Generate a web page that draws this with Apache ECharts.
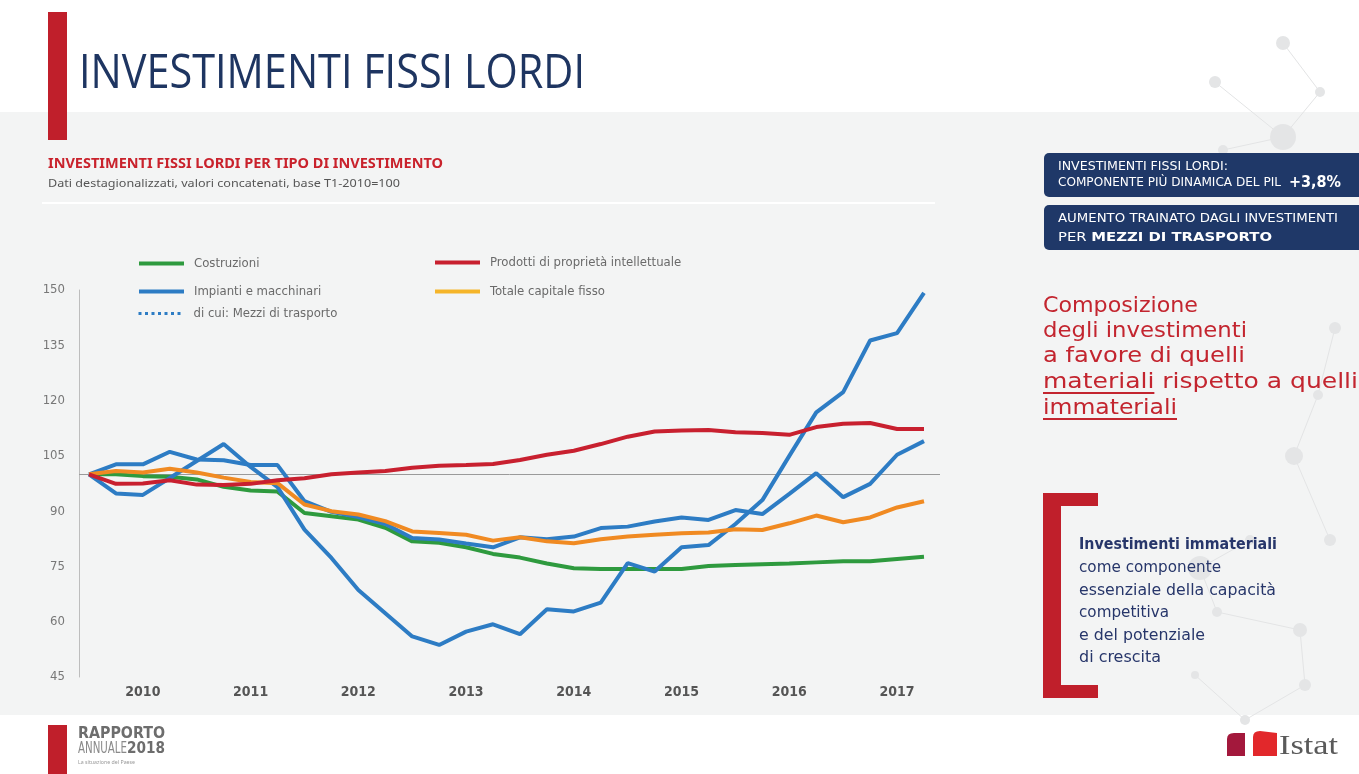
<!DOCTYPE html>
<html>
<head>
<meta charset="utf-8">
<script src="https://cdn.jsdelivr.net/npm/echarts@6/dist/echarts.min.js"></script>
<style>
html, body { margin: 0; padding: 0; width: 1359px; height: 774px; overflow: hidden; background: #fff; }
.box { position: absolute; }
.t { position: absolute; white-space: nowrap; transform-origin: 0 50%; }
#band { left: 0; top: 112px; width: 1359px; height: 603px; background: #f3f4f4; }
#chart { position: absolute; left: 0; top: 0; width: 1359px; height: 774px; }
.red { background: #c01f2b; }
.navy { background: #1f3868; border-radius: 5px; }
.wh { color: #fff; font-family: "DejaVu Sans Condensed", "Noto Sans", sans-serif; font-size: 13px; line-height: 16px; }
.rp { color: #c3252f; font-family: "DejaVu Sans", sans-serif; font-size: 22px; line-height: 26px; }
.rp u { text-decoration-thickness: 2px; text-underline-offset: 4px; }
.nv { color: #27366a; font-family: "DejaVu Sans", sans-serif; font-size: 15px; line-height: 20px; }
</style>
</head>
<body>
<div id="band" class="box"></div>
<svg class="box" style="left:0;top:0" width="1359" height="774">
  <g stroke="#e3e4e5" stroke-width="1" fill="none">
    <line x1="1215" y1="82" x2="1283" y2="137"/>
    <line x1="1283" y1="137" x2="1320" y2="92"/>
    <line x1="1283" y1="137" x2="1223" y2="150"/>
    <line x1="1283" y1="43" x2="1320" y2="92"/>
    <line x1="1335" y1="328" x2="1318" y2="395"/>
    <line x1="1318" y1="395" x2="1294" y2="456"/>
    <line x1="1294" y1="456" x2="1330" y2="540"/>
    <line x1="1250" y1="540" x2="1200" y2="568"/>
    <line x1="1200" y1="568" x2="1217" y2="612"/>
    <line x1="1217" y1="612" x2="1300" y2="630"/>
    <line x1="1300" y1="630" x2="1305" y2="685"/>
    <line x1="1195" y1="675" x2="1245" y2="720"/>
    <line x1="1245" y1="720" x2="1305" y2="685"/>
  </g>
  <g fill="#e4e5e6">
    <circle cx="1283" cy="43" r="7"/>
    <circle cx="1215" cy="82" r="6"/>
    <circle cx="1320" cy="92" r="5"/>
    <circle cx="1283" cy="137" r="13"/>
    <circle cx="1223" cy="150" r="5"/>
    <circle cx="1335" cy="328" r="6"/>
    <circle cx="1318" cy="395" r="5"/>
    <circle cx="1294" cy="456" r="9"/>
    <circle cx="1330" cy="540" r="6"/>
    <circle cx="1250" cy="540" r="5"/>
    <circle cx="1200" cy="568" r="12"/>
    <circle cx="1217" cy="612" r="5"/>
    <circle cx="1300" cy="630" r="7"/>
    <circle cx="1305" cy="685" r="6"/>
    <circle cx="1195" cy="675" r="4"/>
    <circle cx="1245" cy="720" r="5"/>
  </g>
</svg>
<div id="chart"></div>

<div class="box red" style="left:48px;top:12px;width:19px;height:128px"></div>
<div class="t fit" data-w="506" style="left:79px;top:44px;font-family:'Open Sans',sans-serif;font-size:48px;line-height:52px;color:#1e3561">INVESTIMENTI FISSI LORDI</div>

<div class="t fit" data-w="395" style="left:48px;top:154px;font-family:'Noto Sans',sans-serif;font-weight:700;font-size:14px;line-height:18px;color:#c9222c">INVESTIMENTI FISSI LORDI PER TIPO DI INVESTIMENTO</div>
<div class="t fit" data-w="352" style="left:48px;top:175px;font-family:'Noto Sans',sans-serif;font-size:11.5px;line-height:16px;color:#555">Dati destagionalizzati, valori concatenati, base T1-2010=100</div>
<div class="box" style="left:42px;top:202px;width:893px;height:2px;background:#fff"></div>

<div class="box navy" style="left:1044px;top:153px;width:330px;height:44px"></div>
<div class="box navy" style="left:1044px;top:205px;width:330px;height:45px"></div>
<div class="t wh fit" data-w="170" style="left:1058px;top:158px">INVESTIMENTI FISSI LORDI:</div>
<div class="t wh fit" data-w="223" style="left:1058px;top:174px">COMPONENTE PIÙ DINAMICA DEL PIL</div>
<div class="t wh" style="left:1289px;top:173px;font-weight:700;font-size:16px;line-height:18px">+3,8%</div>
<div class="t wh fit" data-w="280" style="left:1058px;top:210px">AUMENTO TRAINATO DAGLI INVESTIMENTI</div>
<div class="t wh fit" data-w="214" style="left:1058px;top:229px">PER <b style="font-weight:900">MEZZI DI TRASPORTO</b></div>

<div class="t rp fit" data-w="155" style="left:1043px;top:292px">Composizione</div>
<div class="t rp fit" data-w="204" style="left:1043px;top:317px">degli investimenti</div>
<div class="t rp fit" data-w="202" style="left:1043px;top:342px">a favore di quelli</div>
<div class="t rp fit" data-w="315" style="left:1043px;top:368px"><u>materiali</u> rispetto a quelli</div>
<div class="t rp fit" data-w="134" style="left:1043px;top:394px"><u>immateriali</u></div>

<div class="box red" style="left:1043px;top:493px;width:18px;height:205px"></div>
<div class="box red" style="left:1043px;top:493px;width:55px;height:13px"></div>
<div class="box red" style="left:1043px;top:685px;width:55px;height:13px"></div>
<div class="t nv fit" data-w="198" style="left:1079px;top:534px;font-weight:700">Investimenti immateriali</div>
<div class="t nv fit" data-w="142" style="left:1079px;top:557px">come componente</div>
<div class="t nv fit" data-w="197" style="left:1079px;top:580px">essenziale della capacità</div>
<div class="t nv fit" data-w="90" style="left:1079px;top:602px">competitiva</div>
<div class="t nv fit" data-w="126" style="left:1079px;top:625px">e del potenziale</div>
<div class="t nv fit" data-w="82" style="left:1079px;top:647px">di crescita</div>

<div class="box red" style="left:48px;top:725px;width:19px;height:49px"></div>
<div class="t fit" data-w="87" style="left:78px;top:724px;font-family:'DejaVu Sans Condensed',sans-serif;font-weight:700;font-size:16px;line-height:18px;color:#6d6d6d">RAPPORTO</div>
<div class="t fit" data-w="49" style="left:78px;top:740px;font-family:'DejaVu Sans Condensed',sans-serif;font-weight:300;font-size:15px;line-height:16px;color:#8a8a8a">ANNUALE</div>
<div class="t fit" data-w="38" style="left:127px;top:740px;font-family:'DejaVu Sans Condensed',sans-serif;font-weight:700;font-size:15px;line-height:16px;color:#6d6d6d">2018</div>
<div class="t fit" data-w="57" style="left:78px;top:758px;font-family:'Noto Sans',sans-serif;font-size:6px;line-height:8px;color:#999">La situazione del Paese</div>

<svg class="box" style="left:1220px;top:725px" width="130" height="40">
  <path d="M7,31 L7,14 Q7,8 14,8 L25,8 L25,31 Z" fill="#a3183c"/>
  <path d="M33,31 L33,12 Q33,6 40,6 L57,8 L57,31 Z" fill="#e2282b"/>
</svg>
<div class="t fit" data-w="59" style="left:1279px;top:730px;font-family:'Liberation Serif',serif;font-size:28px;line-height:30px;color:#5a5a5a">Istat</div>

<script>
const NARROW = '"Liberation Sans Narrow", "DejaVu Sans Condensed", sans-serif';

const years = [2010, 2011, 2012, 2013, 2014, 2015, 2016, 2017];
const quarters = ['T1', 'T2', 'T3', 'T4'];
const categories = years.flatMap(y => quarters.map(q => q + '-' + y));

const costruzioni = [100, 100, 99.5, 99.3, 98.6, 96.6, 95.6, 95.3, 89.5, 88.6, 87.7, 85.5, 81.8, 81.4, 80.2, 78.4,
  77.4, 75.8, 74.5, 74.3, 74.3, 74.3, 74.3, 75.1, 75.4, 75.6, 75.8, 76.1, 76.4, 76.4, 77.0, 77.6];
const impianti = [100, 102.7, 102.7, 106.1, 104.0, 103.8, 102.5, 102.5, 92.7, 89.8, 88.4, 86.5, 82.7, 82.3, 81.2, 80.2,
  82.9, 82.4, 83.1, 85.4, 85.8, 87.2, 88.3, 87.6, 90.3, 89.2, 94.7, 100.3, 93.8, 97.4, 105.3, 109.0];
const mezzi = [100, 94.8, 94.4, 99.0, 103.6, 108.2, 102.0, 96.5, 85.0, 77.3, 68.6, 62.3, 56.0, 53.7, 57.3, 59.3,
  56.6, 63.4, 62.8, 65.2, 75.9, 73.6, 80.2, 80.8, 86.5, 93.0, 105.0, 116.8, 122.3, 136.3, 138.3, 149.2];
const prodotti = [100, 97.4, 97.5, 98.4, 97.2, 97.1, 97.4, 98.4, 98.9, 100.0, 100.5, 100.9, 101.8, 102.3, 102.5, 102.8,
  103.9, 105.3, 106.4, 108.2, 110.2, 111.6, 111.9, 112.0, 111.4, 111.2, 110.7, 112.8, 113.7, 113.9, 112.3, 112.3];
const totale = [100, 100.9, 100.5, 101.5, 100.5, 99.1, 97.9, 97.6, 91.8, 90.0, 89.1, 87.3, 84.5, 84.1, 83.6, 82.0,
  82.9, 81.8, 81.3, 82.4, 83.1, 83.6, 84.0, 84.2, 85.1, 84.9, 86.7, 88.8, 87.0, 88.3, 91.0, 92.7];

const baseValue = 100;

function line(name, data, color) {
  return {
    name: name, type: 'line', data: data, symbol: 'none', color: color,
    lineStyle: { width: 4, color: color }
  };
}

function legendAt(item, left, top) {
  return {
    data: [item], left: left, top: top, padding: 0,
    itemWidth: 45, itemHeight: 14, selectedMode: false,
    itemStyle: { opacity: 0 },   // hide the dot, keep only the line
    lineStyle: { width: 4 },
    textStyle: { fontFamily: NARROW, fontSize: 13, color: '#6a6a6a', padding: [0, 0, 0, 5] }
  };
}

const chart = echarts.init(document.getElementById('chart'));
chart.setOption({
  animation: false,
  backgroundColor: 'transparent',
  legend: [
    legendAt({ name: 'Costruzioni' }, 137, 257),
    legendAt({ name: 'Impianti e macchinari' }, 137, 285),
    legendAt({ name: 'di cui: Mezzi di trasporto', lineStyle: { type: [3, 3.5], width: 3 } }, 137, 307),
    legendAt({ name: 'Prodotti di proprietà intellettuale' }, 433, 256),
    legendAt({ name: 'Totale capitale fisso', lineStyle: { color: '#f5b52a' } }, 433, 285)
  ],
  grid: { left: 89, right: 435, top: 290, bottom: 97 },
  xAxis: {
    type: 'category',
    data: categories,
    boundaryGap: false,
    axisLine: { show: false },
    axisTick: { show: false },
    splitLine: { show: false },
    axisLabel: {
      interval: (index) => index % 4 === 2,
      formatter: (v) => v.split('-')[1],
      margin: 8,
      fontFamily: NARROW, fontWeight: 'bold', fontSize: 14, color: '#555'
    }
  },
  yAxis: {
    type: 'value',
    min: 45, max: 150, interval: 15,
    offset: 10,
    axisLine: { show: true, lineStyle: { color: '#bdbdbd', width: 1 } },
    axisTick: { show: false },
    splitLine: { show: false },
    axisLabel: { margin: 14, fontFamily: NARROW, fontSize: 13, color: '#777' }
  },
  series: [
    line('Costruzioni', costruzioni, '#2e9a3e'),
    line('Impianti e macchinari', impianti, '#2d7cc4'),
    line('di cui: Mezzi di trasporto', mezzi, '#2d7cc4'),
    line('Totale capitale fisso', totale, '#f08a22'),
    line('Prodotti di proprietà intellettuale', prodotti, '#c8202f')
  ]
});

// base line at 100, a bit wider than the plot area
const yBase = Math.round(chart.convertToPixel({ yAxisIndex: 0 }, baseValue)) + 0.5;
chart.setOption({
  graphic: [{
    type: 'line', z: 1, silent: true,
    shape: { x1: 79, y1: yBase, x2: 940, y2: yBase },
    style: { stroke: '#9a9a9a', lineWidth: 1 }
  }]
});

// squeeze slide texts to the widths of the original
document.querySelectorAll('.fit').forEach(el => {
  const w = +el.dataset.w;
  const nat = el.getBoundingClientRect().width;
  if (nat > 0) el.style.transform = 'scaleX(' + (w / nat) + ')';
});
</script>
</body>
</html>
